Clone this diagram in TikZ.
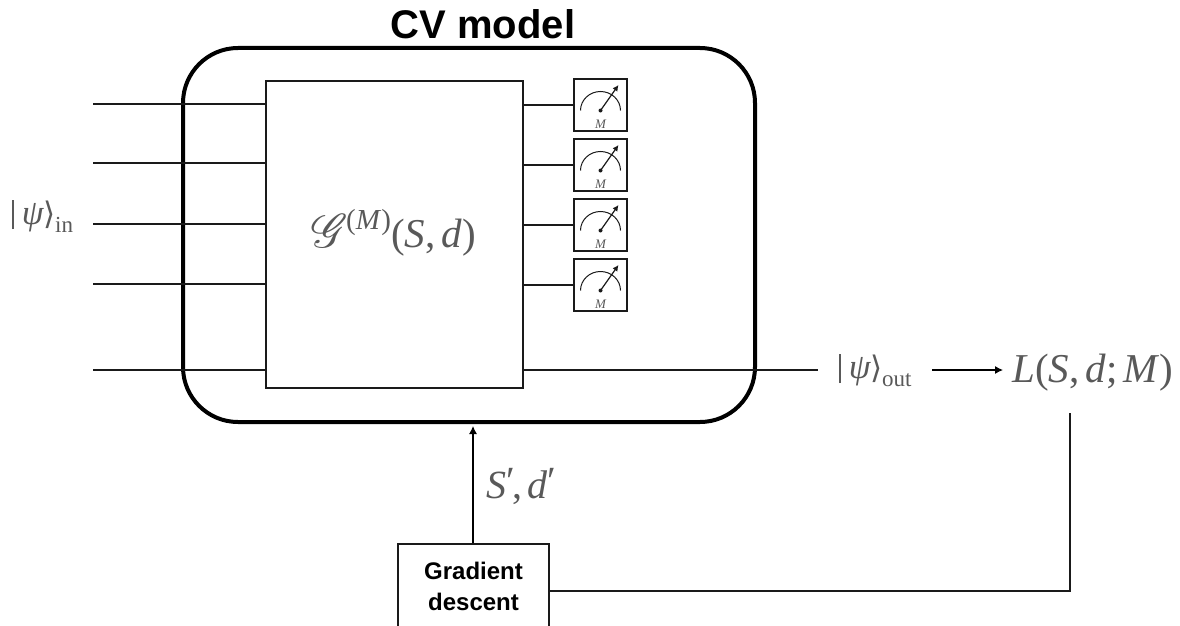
\documentclass[tikz,border=0pt]{standalone}
\usepackage{fontspec}
\usepackage{mathrsfs}
\setmainfont{Liberation Serif}
\newfontfamily\hv{Liberation Sans}
\newfontfamily\djv{DejaVu Sans}
\usetikzlibrary{arrows.meta,calc}
\definecolor{txtgray}{HTML}{595959}
\definecolor{ln}{HTML}{1A1A1A}
\newcommand{\mv}[1]{\textit{#1}}
\newcommand{\ketpsi}{{\fontsize{35}{35}\selectfont\rule[-5pt]{1.6pt}{29pt}\kern8pt\mv{ψ}\kern-1pt{\djv\fontsize{31}{31}\selectfont⟩}}}
\tikzset{
  x=1pt,y=-1pt,
  wire/.style={draw=ln,line width=1.1pt},
  meterbox/.style={draw=ln,line width=1.4pt,fill=white,minimum width=53pt,minimum height=52pt,inner sep=0pt},
  gauge/.style={draw=ln,line width=1pt},
  mlabel/.style={text=txtgray,inner sep=0pt},
  arrowline/.style={draw=black,line width=1.1pt,-{Latex[length=8pt,width=8pt]}}
}
\newcommand{\gaugeIn}[1]{%
  \draw[gauge] ($(#1)+(-20,5.5)$) arc[start angle=180,end angle=360,x radius=20,y radius=19];
  \fill[ln] ($(#1)+(0,5.5)$) circle (2pt);
  \draw[gauge,line width=1.2pt,-{Latex[length=6pt,width=6pt]}] ($(#1)+(0,5.5)$) -- ($(#1)+(18,-20)$);
  \node[text=txtgray,inner sep=0pt,font=\fontsize{13}{13}\selectfont\itshape] at ($(#1)+(0,19)$) {M};
}
\begin{document}
\begin{tikzpicture}
\useasboundingbox (0,0) rectangle (1180,626);
\node[draw=black,line width=4pt,rounded corners=55pt,minimum width=572pt,minimum height=374pt,inner sep=0pt] (outer) at (469,235) {};
\node[inner sep=0pt,anchor=base,font=\hv\bfseries\fontsize{40}{40}\selectfont] (title) at (483,39) {CV model};
\coordinate (i1) at (93,104);
\coordinate (i2) at (93,163);
\coordinate (i3) at (93,224);
\coordinate (i4) at (93,284);
\coordinate (i5) at (93,370);
\coordinate (o5) at (818,370);
\node[draw=ln,line width=1.2pt,fill=none,minimum width=257pt,minimum height=307pt,inner sep=0pt] (gate) at (394.5,234.5) {};
\node[mlabel,anchor=base west,font=\fontsize{41}{41}\selectfont] (glabel) at (311,247) {\scalebox{1.9}{$\mathscr{G}$}\kern-2pt\raisebox{.42em}{\fontsize{29}{29}\selectfont(\mv{M})}(\mv{S},\kern.15em\mv{d})};
\foreach \i/\y in {i1/104,i2/163,i3/224,i4/284,i5/370}
  \draw[wire] (\i) -- (gate.west |- {0,\y});
\node[meterbox] (m1) at (600.5,105) {};
\node[meterbox] (m2) at (600.5,165) {};
\node[meterbox] (m3) at (600.5,225) {};
\node[meterbox] (m4) at (600.5,285) {};
\foreach \m in {m1,m2,m3,m4} {
  \gaugeIn{\m}
  \draw[wire] (gate.east |- \m.west) -- (\m.west);
}
\draw[wire] (gate.east |- i5) -- (o5);
\node[mlabel,anchor=base west] (psiin) at (12,224) {\ketpsi\raisebox{-8pt}{\fontsize{23}{23}\selectfont in}};
\node[mlabel,anchor=base west] (psiout) at (839,378) {\ketpsi\raisebox{-8pt}{\fontsize{23}{23}\selectfont out}};
\node[mlabel,anchor=base west,font=\fontsize{41}{41}\selectfont] (loss) at (1012,382) {\mv{L}(\mv{S},\kern.15em\mv{d};\kern.15em\mv{M})};
\draw[arrowline] (932,370) -- (1003,370);
\coordinate (gbl) at (398,626);
\coordinate (gbr) at (549,626);
\coordinate (gtl) at (398,544);
\coordinate (gtr) at (549,544);
\draw[draw=ln,line width=1.2pt] (gbl) -- (gtl) -- (gtr) -- (gbr);
\node[inner sep=0pt,align=center,font=\hv\bfseries\fontsize{24}{31}\selectfont,text=black] (grad) at (473.5,586) {Gradient\\descent};
\coordinate (gtop) at (473,543);
\coordinate (oarrow) at (473,426);
\draw[arrowline] (gtop) -- (oarrow);
\node[mlabel,anchor=base west,font=\fontsize{40}{40}\selectfont] (sd) at (486,498) {\mv{S}\raisebox{.1em}{′}\kern-.05em,\kern.12em\mv{d}\raisebox{.1em}{′}};
\coordinate (gbe) at (549,591);
\coordinate (lc) at (1070,591);
\coordinate (lt) at (1070,413);
\draw[wire] (gbe) -- (lc) -- (lt);
\end{tikzpicture}
\end{document}
